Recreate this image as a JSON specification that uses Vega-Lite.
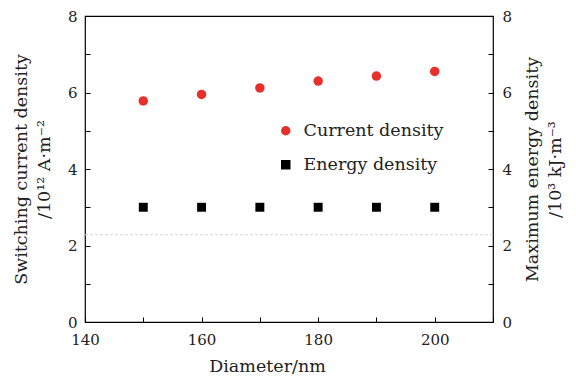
{
  "$schema": "https://vega.github.io/schema/vega-lite/v6.json",
  "width": 408,
  "height": 306,
  "autosize": "none",
  "padding": {"left": 85, "top": 16, "right": 83, "bottom": 56},
  "config": {
    "font": "DejaVu Serif",
    "view": {"stroke": "#000", "strokeWidth": 1.2},
    "axis": {
      "labelFont": "DejaVu Serif",
      "titleFont": "DejaVu Serif",
      "labelFontSize": 15,
      "titleFontSize": 17.5,
      "titleFontWeight": "normal",
      "labelColor": "#222",
      "titleColor": "#222"
    },
    "legend": {"labelFont": "DejaVu Serif", "labelFontSize": 17.5, "labelColor": "#222"}
  },
  "datasets": {
    "pts": [
      {"d": 150, "v": 5.78, "series": "Current density"},
      {"d": 160, "v": 5.95, "series": "Current density"},
      {"d": 170, "v": 6.12, "series": "Current density"},
      {"d": 180, "v": 6.3, "series": "Current density"},
      {"d": 190, "v": 6.43, "series": "Current density"},
      {"d": 200, "v": 6.55, "series": "Current density"},
      {"d": 150, "v": 3.0, "series": "Energy density"},
      {"d": 160, "v": 3.0, "series": "Energy density"},
      {"d": 170, "v": 3.0, "series": "Energy density"},
      {"d": 180, "v": 3.0, "series": "Energy density"},
      {"d": 190, "v": 3.0, "series": "Energy density"},
      {"d": 200, "v": 3.0, "series": "Energy density"}
    ],
    "faint": [{"v": 2.28}]
  },
  "layer": [
    {
      "data": {"name": "faint"},
      "mark": {"type": "rule", "color": "#d4d4d4", "strokeDash": [3, 2], "strokeWidth": 1},
      "encoding": {
        "y": {"field": "v", "type": "quantitative", "scale": {"domain": [0, 8]}, "axis": null}
      }
    },
    {
      "data": {"name": "pts"},
      "transform": [{"filter": "datum.series == 'Current density'"}],
      "mark": {"type": "point", "filled": true, "opacity": 1, "size": 90},
      "encoding": {
        "x": {
          "field": "d", "type": "quantitative",
          "scale": {"domain": [140, 210], "nice": false},
          "axis": {
            "title": "Diameter/nm",
            "values": [140, 145, 150, 155, 160, 165, 170, 175, 180, 185, 190, 195, 200, 205, 210],
            "labelOpacity": {"condition": {"test": "datum.value % 20 != 0 || datum.value > 200", "value": 0}, "value": 1},
            "labelOverlap": false,
            "grid": false,
            "domain": false,
            "offset": -5,
            "tickSize": 5,
            "tickColor": "black",
            "tickWidth": 1,
            "labelPadding": 10,
            "titleX": 182,
            "titleAnchor": "start",
            "titleAlign": "center",
            "titlePadding": 10,
            "labelFlush": false
          }
        },
        "y": {
          "field": "v", "type": "quantitative",
          "scale": {"domain": [0, 8], "nice": false},
          "axis": {
            "orient": "left",
            "title": ["Switching current density", "/10¹² A·m⁻²"],
            "values": [0, 0.5, 1, 1.5, 2, 2.5, 3, 3.5, 4, 4.5, 5, 5.5, 6, 6.5, 7, 7.5, 8],
            "format": "d",
            "labelOpacity": {"condition": {"test": "datum.value % 2 != 0", "value": 0}, "value": 1},
            "labelOverlap": false,
            "grid": false,
            "domain": false,
            "offset": -5,
            "tickSize": 5,
            "tickColor": "black",
            "tickWidth": 1,
            "labelPadding": 8,
            "titlePadding": 14,
            "titleLineHeight": 23
          }
        },
        "color": {
          "field": "series", "type": "nominal",
          "scale": {"domain": ["Current density", "Energy density"], "range": ["#e8302a", "#000000"]},
          "legend": {
            "title": null, "orient": "none", "legendX": 192, "legendY": 106,
            "symbolSize": 90, "rowPadding": 15, "labelOffset": 9
          }
        },
        "shape": {
          "field": "series", "type": "nominal",
          "scale": {"domain": ["Current density", "Energy density"], "range": ["circle", "square"]},
          "legend": null
        }
      }
    },
    {
      "data": {"name": "pts"},
      "transform": [{"filter": "datum.series == 'Energy density'"}],
      "mark": {"type": "point", "filled": true, "opacity": 1, "size": 80},
      "encoding": {
        "x": {"field": "d", "type": "quantitative", "scale": {"domain": [140, 210], "nice": false}},
        "y": {
          "field": "v", "type": "quantitative",
          "scale": {"domain": [0, 8], "nice": false},
          "axis": {
            "orient": "right",
            "title": ["Maximum energy density", "/10³ kJ·m⁻³"],
            "titleAngle": -90,
            "titleBaseline": "top",
            "titleAlign": "center",
            "titleX": 35,
            "titleY": 153,
            "values": [0, 0.5, 1, 1.5, 2, 2.5, 3, 3.5, 4, 4.5, 5, 5.5, 6, 6.5, 7, 7.5, 8],
            "format": "d",
            "labelOpacity": {"condition": {"test": "datum.value % 2 != 0", "value": 0}, "value": 1},
            "labelOverlap": false,
            "grid": false,
            "domain": false,
            "offset": -5,
            "tickSize": 5,
            "tickColor": "black",
            "tickWidth": 1,
            "labelPadding": 9,
            "titleLineHeight": 23
          }
        },
        "color": {"field": "series", "type": "nominal"},
        "shape": {"field": "series", "type": "nominal"}
      }
    }
  ],
  "resolve": {"scale": {"y": "independent"}, "axis": {"y": "independent"}}
}
